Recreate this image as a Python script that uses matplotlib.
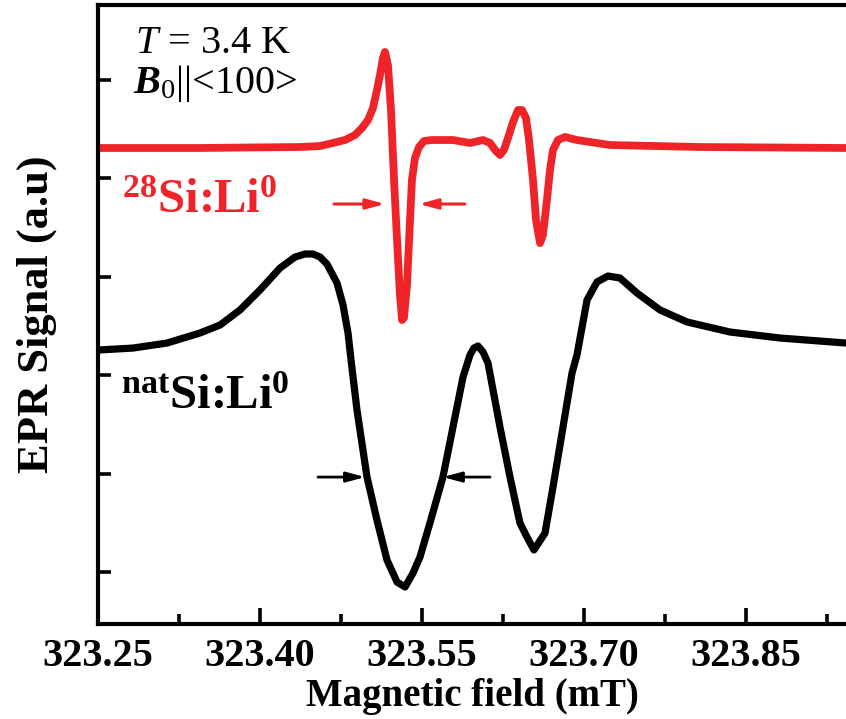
import matplotlib
matplotlib.use("Agg")
import matplotlib.pyplot as plt
from matplotlib.ticker import MultipleLocator, NullFormatter

plt.rcParams["font.family"] = ["Liberation Serif", "DejaVu Serif"]
plt.rcParams["font.weight"] = "bold"
plt.rcParams["mathtext.fontset"] = "custom"
plt.rcParams["mathtext.rm"] = "Liberation Serif:style=normal:weight=normal"
plt.rcParams["mathtext.it"] = "Liberation Serif:style=italic:weight=normal"
plt.rcParams["mathtext.bf"] = "Liberation Serif:style=normal:weight=bold"
plt.rcParams["mathtext.bfit"] = "Liberation Serif:style=italic:weight=bold"

# EPR derivative spectrum, isotopically enriched 28Si:Li0 (offset trace)
field_28 = [323.2500, 323.3444, 323.4370, 323.4556, 323.4676, 323.4787,
            323.4880, 323.4944, 323.5000, 323.5046, 323.5083, 323.5111,
            323.5139, 323.5157, 323.5185, 323.5213, 323.5241, 323.5269,
            323.5296, 323.5315, 323.5333, 323.5361, 323.5389, 323.5407,
            323.5435, 323.5472, 323.5519, 323.5593, 323.5787, 323.5944,
            323.6065, 323.6130, 323.6176, 323.6222, 323.6259, 323.6296,
            323.6343, 323.6389, 323.6426, 323.6463, 323.6491, 323.6528,
            323.6556, 323.6593, 323.6620, 323.6657, 323.6685, 323.6713,
            323.6759, 323.6824, 323.6935, 323.7056, 323.7241, 323.8074,
            323.9426]
signal_28 = [4.309, 4.309, 4.319, 4.329, 4.360, 4.390,
             4.441, 4.512, 4.593, 4.715, 4.898, 5.051,
             5.224, 5.285, 5.152, 4.695, 3.984, 3.374,
             2.815, 2.561, 2.581, 2.917, 3.577, 3.984,
             4.207, 4.319, 4.380, 4.390, 4.390, 4.360,
             4.390, 4.360, 4.289, 4.238, 4.289, 4.411,
             4.573, 4.695, 4.695, 4.614, 4.390, 3.984,
             3.577, 3.343, 3.425, 3.780, 4.085, 4.289,
             4.390, 4.421, 4.390, 4.370, 4.339, 4.319,
             4.309]

# EPR derivative spectrum, natural silicon natSi:Li0
field_nat = [323.2500, 323.2824, 323.3139, 323.3444, 323.3630, 323.3815,
             323.4000, 323.4185, 323.4324, 323.4417, 323.4491, 323.4556,
             323.4620, 323.4713, 323.4769, 323.4815, 323.4843, 323.4898,
             323.4991, 323.5083, 323.5176, 323.5269, 323.5343, 323.5417,
             323.5481, 323.5574, 323.5694, 323.5787, 323.5880, 323.5944,
             323.5981, 323.6019, 323.6065, 323.6111, 323.6222, 323.6315,
             323.6407, 323.6472, 323.6537, 323.6639, 323.6713, 323.6806,
             323.6889, 323.6935, 323.7028, 323.7120, 323.7222, 323.7333,
             323.7491, 323.7704, 323.7954, 323.8352, 323.8815, 323.9426]
signal_nat = [2.256, 2.276, 2.327, 2.429, 2.510, 2.663,
              2.866, 3.089, 3.201, 3.232, 3.232, 3.201,
              3.130, 2.937, 2.713, 2.429, 2.154, 1.646,
              0.965, 0.528, 0.122, -0.102, -0.152, -0.010,
              0.152, 0.500, 0.965, 1.474, 1.982, 2.205,
              2.276, 2.297, 2.236, 2.124, 1.474, 0.965,
              0.498, 0.356, 0.224, 0.396, 0.864, 1.474,
              2.022, 2.205, 2.764, 2.947, 3.008, 2.988,
              2.835, 2.663, 2.541, 2.439, 2.378, 2.327]

# linewidth markers (arrow tail, arrow head) at the given signal level
arrows_28 = [((323.4685, 3.74), (323.5157, 3.74)),
             ((323.5898, 3.74), (323.5472, 3.74))]
arrows_nat = [((323.4537, 0.965), (323.4972, 0.965)),
              ((323.6130, 0.965), (323.5694, 0.965))]

xticks = [323.25, 323.40, 323.55, 323.70, 323.85]

red = "#ee2428"

fig = plt.figure(figsize=(8.46, 7.19), dpi=100)
ax = fig.add_axes([98 / 846, 1 - 624 / 719, 1 - 98 / 846, (624 - 5) / 719])

ax.plot(field_28, signal_28, color=red, lw=5.6, solid_joinstyle="round")
ax.plot(field_nat, signal_nat, color="black", lw=5.2, solid_joinstyle="round")

for (x0, y0), (x1, y1) in arrows_28:
    ax.annotate("", xy=(x1, y1), xytext=(x0, y0),
                arrowprops=dict(arrowstyle="-|>,head_length=1.1,head_width=0.3",
                                color=red, lw=2.2, shrinkA=0, shrinkB=0))
for (x0, y0), (x1, y1) in arrows_nat:
    ax.annotate("", xy=(x1, y1), xytext=(x0, y0),
                arrowprops=dict(arrowstyle="-|>,head_length=1.1,head_width=0.3",
                                color="black", lw=2.0, shrinkA=0, shrinkB=0))

ax.set_xlim(323.25, 323.9426)
ax.set_ylim(-0.528, 5.762)
ax.set_xticks(xticks)
ax.set_xticklabels([f"{v:.2f}" for v in xticks])
ax.xaxis.set_minor_locator(MultipleLocator(0.075))
ax.set_yticks([0, 1, 2, 3, 4, 5])
ax.yaxis.set_major_formatter(NullFormatter())

for side in ("left", "top", "bottom"):
    ax.spines[side].set_linewidth(3.0)
ax.spines["right"].set_visible(False)

ax.tick_params(axis="x", which="major", direction="in", length=11.5, width=2.6,
               labelsize=29, pad=10)
ax.tick_params(axis="x", which="minor", direction="in", length=7, width=2.6)
ax.tick_params(axis="y", which="major", direction="in", length=9, width=2.6)
ax.tick_params(top=False, right=False)

ax.set_xlabel("Magnetic field (mT)", fontsize=28, fontweight="bold", labelpad=2)
ax.set_ylabel("EPR Signal (a.u)", fontsize=32, fontweight="bold", labelpad=26)

def fx(px):
    return px / 846

def fy(py):
    return 1 - py / 719

fig.text(fx(135), fy(53), r"$T$ = 3.4 K", fontsize=29, fontweight="normal",
         va="baseline", ha="left")
fig.text(fx(133), fy(93), r"$\mathbfit{B}_{\mathrm{0}}$||<100>", fontsize=29,
         fontweight="normal", va="baseline", ha="left")
fig.text(fx(122), fy(213), r"$^{\mathbf{28}}$Si:Li$^{\mathbf{0}}$", fontsize=35,
         color=red, fontweight="bold", va="baseline", ha="left")
fig.text(fx(121), fy(409), r"$^{\mathbf{nat}}$Si:Li$^{\mathbf{0}}$", fontsize=35,
         color="black", fontweight="bold", va="baseline", ha="left")

fig.savefig("out.png", dpi=100)
